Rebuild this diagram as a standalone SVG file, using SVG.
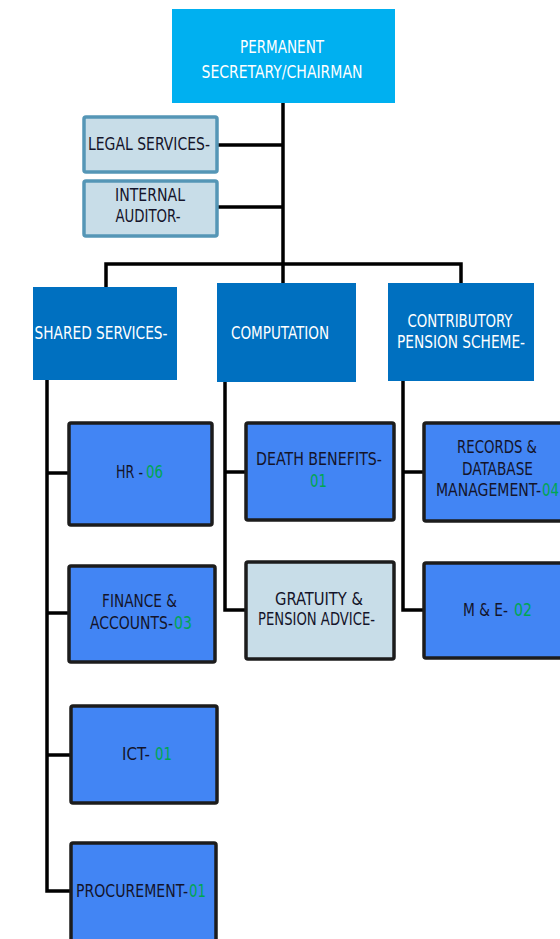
<svg xmlns="http://www.w3.org/2000/svg" width="560" height="939" viewBox="0 0 560 939">
  <style>
    text { font-family: "DejaVu Sans Condensed", "Liberation Sans", sans-serif; text-anchor: middle; }
    text.l { text-anchor: start; }
    .head { fill: #00B0F0; }
    .dept { fill: #0070C0; }
    .unit { fill: #4285F4; stroke: #1c1c1c; stroke-width: 3.5; }
    .pale { fill: #C8DDE8; stroke: #1c1c1c; stroke-width: 3.5; }
    .staff { fill: #C8DDE8; stroke: #5596B6; stroke-width: 3.5; }
    .wt { fill: #FFFFFF; font-size: 18px; }
    .dk { fill: #14142a; font-size: 18px; }
    .num { fill: #00A651; font-size: 18px; }
    .wire { fill: none; stroke: #000000; stroke-width: 3.5; stroke-linejoin: miter; }
  </style>

  <!-- connectors -->
  <g id="connectors">
    <path class="wire" d="M283 103 V283"/>
    <path class="wire" d="M218 145 H283"/>
    <path class="wire" d="M218 207 H283"/>
    <path class="wire" d="M106 287 V264 H461 V283"/>
    <path class="wire" d="M47 380 V891 H70"/>
    <path class="wire" d="M47 473 H68"/>
    <path class="wire" d="M47 613 H68"/>
    <path class="wire" d="M47 755 H70"/>
    <path class="wire" d="M225 382 V610 H245"/>
    <path class="wire" d="M225 472 H245"/>
    <path class="wire" d="M403 381 V610 H423"/>
    <path class="wire" d="M403 472 H423"/>
  </g>

  <!-- top -->
  <g id="permanent-secretary">
    <rect class="head" x="172" y="9" width="223" height="94"/>
    <text class="wt" x="282" y="53" font-size="19" textLength="84" lengthAdjust="spacingAndGlyphs">PERMANENT</text>
    <text class="wt" x="282" y="78" font-size="19" textLength="161" lengthAdjust="spacingAndGlyphs">SECRETARY/CHAIRMAN</text>
  </g>

  <!-- staff units -->
  <g id="legal-services">
    <rect class="staff" x="84" y="117" width="133" height="55" rx="2"/>
    <text class="dk" x="149" y="150" textLength="122" lengthAdjust="spacingAndGlyphs">LEGAL SERVICES-</text>
  </g>
  <g id="internal-auditor">
    <rect class="staff" x="84" y="181" width="133" height="55" rx="2"/>
    <text class="dk" x="150" y="201" textLength="70" lengthAdjust="spacingAndGlyphs">INTERNAL</text>
    <text class="dk" x="148" y="222" textLength="65" lengthAdjust="spacingAndGlyphs">AUDITOR-</text>
  </g>

  <!-- departments -->
  <g id="shared-services">
    <rect class="dept" x="33" y="287" width="144" height="93"/>
    <text class="wt" x="101" y="339" textLength="133" lengthAdjust="spacingAndGlyphs">SHARED  SERVICES-</text>
  </g>
  <g id="computation">
    <rect class="dept" x="217" y="283" width="139" height="99"/>
    <text class="wt" x="280" y="339" textLength="98" lengthAdjust="spacingAndGlyphs">COMPUTATION</text>
  </g>
  <g id="contributory-pension-scheme">
    <rect class="dept" x="388" y="283" width="146" height="98"/>
    <text class="wt" x="460" y="327" textLength="105" lengthAdjust="spacingAndGlyphs">CONTRIBUTORY</text>
    <text class="wt" x="461" y="348" textLength="128" lengthAdjust="spacingAndGlyphs">PENSION  SCHEME-</text>
  </g>

  <!-- shared services units -->
  <g id="hr">
    <rect class="unit" x="69" y="423" width="143" height="102" rx="2"/>
    <text class="dk l" x="116" y="478" font-size="20" textLength="27" lengthAdjust="spacingAndGlyphs">HR -</text>
    <text class="num l" x="146" y="478" font-size="20" textLength="17" lengthAdjust="spacingAndGlyphs">06</text>
  </g>
  <g id="finance-accounts">
    <rect class="unit" x="69" y="566" width="146" height="96" rx="2"/>
    <text class="dk" x="139.5" y="607" textLength="75" lengthAdjust="spacingAndGlyphs">FINANCE &amp;</text>
    <text class="dk l" x="90" y="629" textLength="83" lengthAdjust="spacingAndGlyphs">ACCOUNTS-</text>
    <text class="num l" x="174" y="629" textLength="18" lengthAdjust="spacingAndGlyphs">03</text>
  </g>
  <g id="ict">
    <rect class="unit" x="71" y="706" width="146" height="97" rx="2"/>
    <text class="dk l" x="122" y="760" font-size="20" textLength="28" lengthAdjust="spacingAndGlyphs">ICT-</text>
    <text class="num l" x="155" y="760" font-size="20" textLength="17" lengthAdjust="spacingAndGlyphs">01</text>
  </g>
  <g id="procurement">
    <rect class="unit" x="71" y="843" width="145" height="110" rx="2"/>
    <text class="dk l" x="76" y="897" font-size="19" textLength="112" lengthAdjust="spacingAndGlyphs">PROCUREMENT-</text>
    <text class="num l" x="189" y="897" font-size="19" textLength="17" lengthAdjust="spacingAndGlyphs">01</text>
  </g>

  <!-- computation units -->
  <g id="death-benefits">
    <rect class="unit" x="246" y="423" width="148" height="97" rx="2"/>
    <text class="dk" x="319" y="465" textLength="126" lengthAdjust="spacingAndGlyphs">DEATH BENEFITS-</text>
    <text class="num" x="318.5" y="487" textLength="17" lengthAdjust="spacingAndGlyphs">01</text>
  </g>
  <g id="gratuity-pension-advice">
    <rect class="pale" x="246" y="562" width="148" height="97" rx="2"/>
    <text class="dk" x="319" y="605" textLength="88" lengthAdjust="spacingAndGlyphs">GRATUITY &amp;</text>
    <text class="dk" x="316.5" y="625" textLength="117" lengthAdjust="spacingAndGlyphs">PENSION ADVICE-</text>
  </g>

  <!-- pension scheme units -->
  <g id="records-database">
    <rect class="unit" x="424" y="423" width="146" height="98" rx="2"/>
    <text class="dk" x="497" y="453" textLength="80" lengthAdjust="spacingAndGlyphs">RECORDS &amp;</text>
    <text class="dk" x="497.5" y="475" textLength="71" lengthAdjust="spacingAndGlyphs">DATABASE</text>
    <text class="dk l" x="436" y="496" textLength="105" lengthAdjust="spacingAndGlyphs">MANAGEMENT-</text>
    <text class="num l" x="542" y="496" textLength="17" lengthAdjust="spacingAndGlyphs">04</text>
  </g>
  <g id="m-and-e">
    <rect class="unit" x="424" y="563" width="146" height="95" rx="2"/>
    <text class="dk l" x="463" y="616" font-size="20" textLength="45" lengthAdjust="spacingAndGlyphs">M &amp; E-</text>
    <text class="num l" x="514" y="616" font-size="20" textLength="18" lengthAdjust="spacingAndGlyphs">02</text>
  </g>
</svg>
